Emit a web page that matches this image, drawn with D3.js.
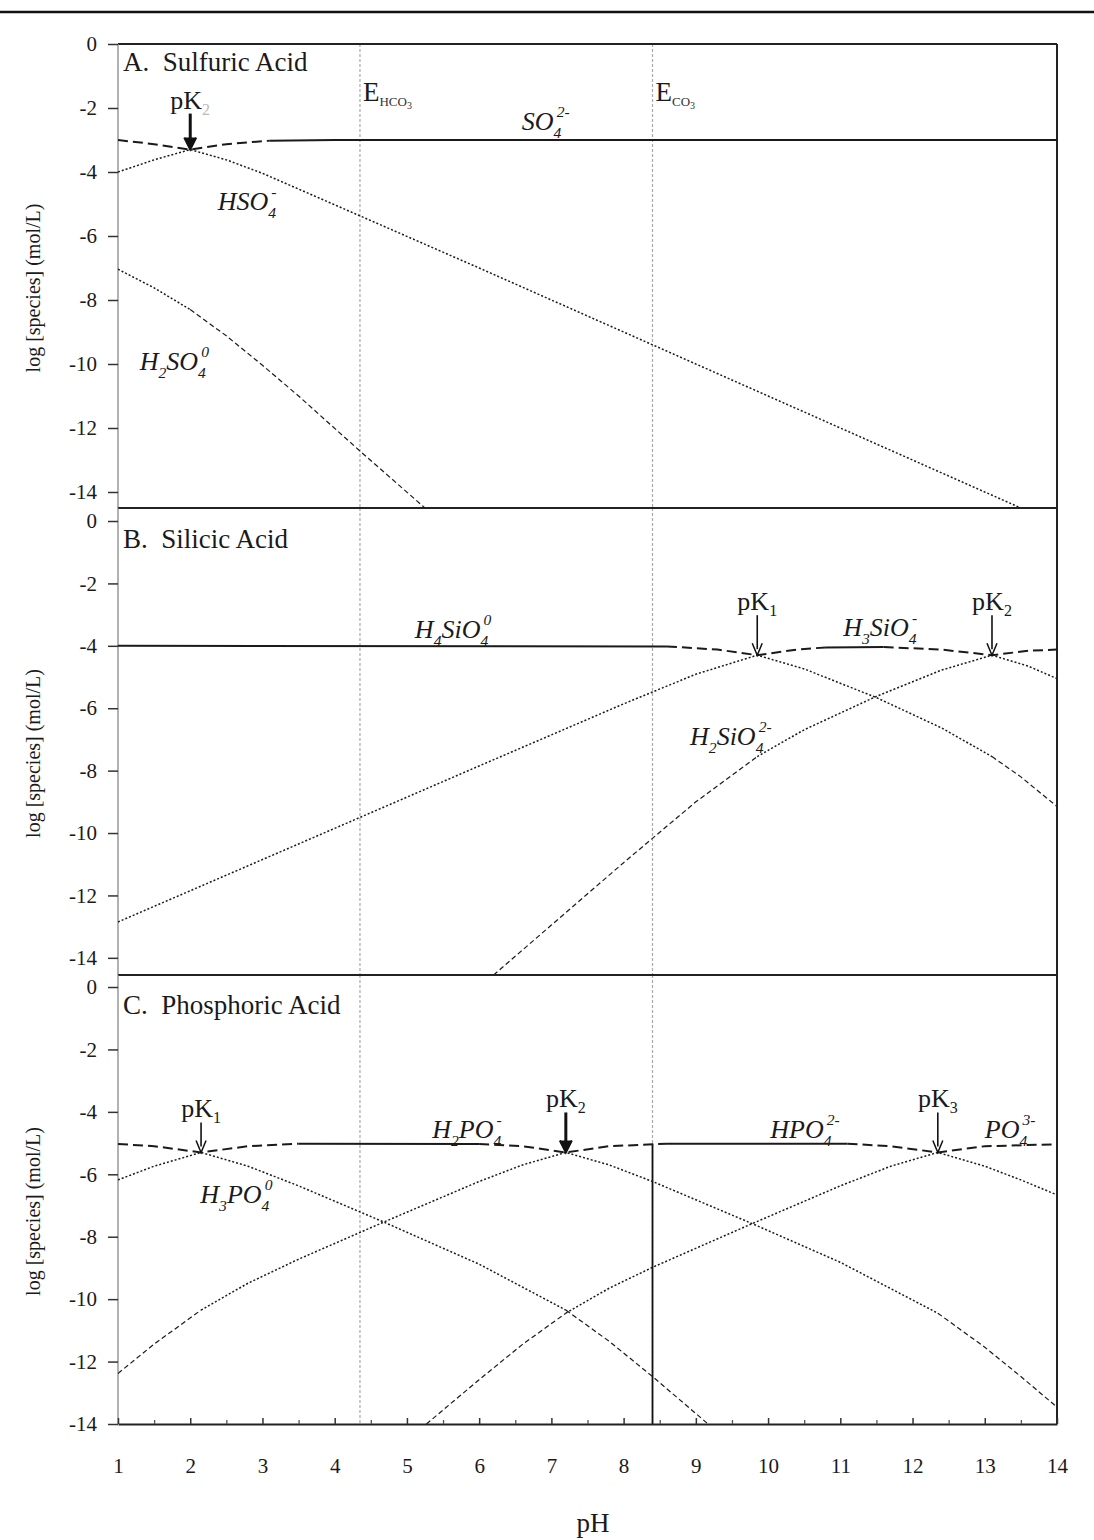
<!DOCTYPE html>
<html>
<head>
<meta charset="utf-8">
<script src="https://cdn.jsdelivr.net/npm/d3@7/dist/d3.min.js"></script>
<style>
  body { margin: 0; background: #fff; }
  svg text { font-family: "Liberation Serif", "DejaVu Serif", serif; fill: #1a1a1a; }
</style>
</head>
<body>
<div id="chart"></div>
<script>
// pH axis
const phTicks = [1, 2, 3, 4, 5, 6, 7, 8, 9, 10, 11, 12, 13, 14];
const logTicks = [0, -2, -4, -6, -8, -10, -12, -14];

// equivalence points of the carbonate system
const eqPoints = [
  { pH: 4.35, name: "HCO", sub: "3" },
  { pH: 8.4, name: "CO", sub: "3" }
];

// A. sulfuric acid, [pH, log species]
const sulfUpper = [[1, -3.0], [1.5, -3.13], [2.0, -3.3], [2.5, -3.13], [3.1, -3.02], [4.0, -3.0], [14, -3.0]];
const sulfHSO4 = [[1, -4.0], [1.5, -3.62], [2.0, -3.3], [2.5, -3.62], [3.0, -4.04], [4.35, -5.37], [6, -7.0], [8, -9.0], [10, -11.0], [12, -13.0], [13.5, -14.5]];
const sulfH2SO4 = [[1, -7.04], [1.5, -7.62], [2.0, -8.3], [2.5, -9.12], [3.0, -10.04], [3.5, -11.0], [4.35, -12.72], [5.25, -14.5]];
const sulfPK = [{ pH: 2.0, v: -3.3, sub: "2" }];

// B. silicic acid
const silUpper = [[1, -4.0], [8.6, -4.02], [9.3, -4.12], [9.85, -4.3], [10.4, -4.12], [10.8, -4.05], [11.6, -4.04], [12.4, -4.12], [13.1, -4.3], [13.6, -4.16], [14, -4.12]];
const silH3SiO4 = [[1, -12.85], [2, -11.85], [3, -10.85], [4.35, -9.5], [6, -7.85], [8, -5.86], [9, -4.91], [9.85, -4.3], [10.5, -4.74], [11.5, -5.66], [12.4, -6.63], [13.1, -7.55], [13.5, -8.2], [14, -9.15]];
const silH2SiO4 = [[6.2, -14.55], [7, -12.95], [8, -10.95], [9, -9.0], [9.85, -7.55], [10.5, -6.69], [11.5, -5.62], [12.4, -4.78], [13.1, -4.3], [13.6, -4.65], [14, -5.05]];
const silPK = [{ pH: 9.85, v: -4.3, sub: "1" }, { pH: 13.1, v: -4.3, sub: "2" }];

// C. phosphoric acid
const phosUpper = [[1, -5.03], [1.5, -5.1], [2.15, -5.3], [2.8, -5.1], [3.5, -5.02], [6.0, -5.03], [6.6, -5.1], [7.2, -5.3], [7.8, -5.1], [8.6, -5.02], [11.1, -5.02], [11.7, -5.1], [12.35, -5.3], [13.0, -5.1], [14, -5.04]];
const phosH3PO4 = [[1, -6.18], [1.5, -5.74], [2.15, -5.3], [2.8, -5.74], [3.5, -6.37], [4.68, -7.53], [6, -8.88], [7.2, -10.35], [7.8, -11.35], [8.4, -12.48], [9.17, -14.0]];
const phosH2PO4 = [[1, -12.38], [1.5, -11.44], [2.15, -10.35], [2.8, -9.49], [3.5, -8.72], [4.68, -7.53], [6, -6.23], [6.6, -5.7], [7.2, -5.3], [7.8, -5.7], [8.4, -6.23], [9.78, -7.58], [11, -8.82], [12.35, -10.45], [13, -11.54], [13.5, -12.48], [14, -13.46]];
const phosPO4 = [[5.27, -14.0], [6, -12.58], [6.6, -11.45], [7.2, -10.45], [7.8, -9.65], [8.4, -8.98], [9.78, -7.58], [11, -6.37], [11.7, -5.74], [12.35, -5.3], [13, -5.74], [13.5, -6.18], [14, -6.66]];
const phosPK = [{ pH: 2.15, v: -5.3, sub: "1" }, { pH: 7.2, v: -5.3, sub: "2" }, { pH: 12.35, v: -5.3, sub: "3" }];

// species labels: text, pH, log value (left/baseline)
const sulfLabels = [["SO_4^{2-}", 6.59, -2.69], ["HSO_4^-", 2.38, -5.2], ["H_2SO_4^0", 1.3, -10.2]];
const silLabels = [["H_4SiO_4^0", 5.11, -3.75], ["H_3SiO_4^-", 11.04, -3.69], ["H_2SiO_4^{2-}", 8.92, -7.18]];
const phosLabels = [["H_3PO_4^0", 2.14, -6.92], ["H_2PO_4^-", 5.35, -4.84], ["HPO_4^{2-}", 10.03, -4.84], ["PO_4^{3-}", 13.0, -4.84]];

const W = 1094, H = 1540;
const svg = d3.select("#chart").append("svg")
  .attr("width", W).attr("height", H);

const x = d3.scaleLinear().domain([1, 14]).range([118, 1057]);

// rule across the top of the page
svg.append("line")
  .attr("x1", 0).attr("x2", W).attr("y1", 12).attr("y2", 12)
  .attr("stroke", "#111").attr("stroke-width", 2.5);

const panels = [
  { id: "A", range: [44, 508], domain: [0, -14.5], title: "A.  Sulfuric Acid",
    upper: sulfUpper, lower: [sulfHSO4, sulfH2SO4], pk: sulfPK, labels: sulfLabels, eqLabels: true,
    pkLen: [36], pkBold: [true] },
  { id: "B", range: [508, 975], domain: [0.417, -14.55], title: "B.  Silicic Acid",
    upper: silUpper, lower: [silH3SiO4, silH2SiO4], pk: silPK, labels: silLabels, eqLabels: false,
    pkLen: [40, 40], pkBold: [false, false] },
  { id: "C", range: [975, 1424], domain: [0.385, -14], title: "C.  Phosphoric Acid",
    upper: phosUpper, lower: [phosH3PO4, phosH2PO4, phosPO4], pk: phosPK, labels: phosLabels, eqLabels: false,
    pkLen: [30, 40, 40], pkBold: [false, true, false] }
];

// write a chemical formula with _sub and ^sup parts, sup stacked over a preceding sub
function richText(sel, str, size) {
  const re = /([_^])(\{[^}]*\}|.)|([^_^]+)/g;
  let m, shift = 0, prevSub = 0;
  while ((m = re.exec(str)) !== null) {
    if (m[3]) {
      sel.append("tspan").attr("dy", -shift).attr("font-size", size).text(m[3]);
      shift = 0; prevSub = 0;
    } else {
      const t = m[2].replace(/[{}]/g, "");
      const isSub = m[1] === "_";
      const d = isSub ? size * 0.3 : -size * 0.5;
      const ts = sel.append("tspan").attr("dy", d - shift).attr("font-size", size * 0.6).text(t);
      if (!isSub && prevSub) ts.attr("dx", -prevSub + size * 0.12);
      prevSub = isSub ? t.length * size * 0.3 : 0;
      shift = d;
    }
  }
}

// split a curve into runs with the same line style
function runs(pts, major) {
  const out = [];
  for (let i = 1; i < pts.length; i++) {
    const s = Math.abs((pts[i][1] - pts[i - 1][1]) / (pts[i][0] - pts[i - 1][0]));
    const style = major ? (s < 0.05 ? "solid" : "dash") : (s >= 1.5 ? "dash" : "dot");
    const last = out[out.length - 1];
    if (last && last.style === style) last.pts.push(pts[i]);
    else out.push({ style: style, pts: [pts[i - 1], pts[i]] });
  }
  return out;
}

const styles = {
  solid: { w: 2, dash: null },
  dash: { w: 2, dash: "10,5" },
  dot: { w: 1.5, dash: "2,2" }
};
const minorDash = { w: 1.2, dash: "5,3" };

panels.forEach(function(p) {
  const y = d3.scaleLinear().domain(p.domain).range(p.range);
  const g = svg.append("g");

  g.append("clipPath").attr("id", "clip" + p.id)
    .append("rect")
    .attr("x", x(1)).attr("y", p.range[0])
    .attr("width", x(14) - x(1)).attr("height", p.range[1] - p.range[0]);

  // carbonate equivalence lines
  eqPoints.forEach(function(e) {
    g.append("line")
      .attr("x1", x(e.pH)).attr("x2", x(e.pH))
      .attr("y1", p.range[0]).attr("y2", p.range[1])
      .attr("stroke", "#aaa").attr("stroke-width", 1.2)
      .attr("stroke-dasharray", "3,2");
  });
  if (p.id === "C") {
    g.append("line")
      .attr("x1", x(8.4)).attr("x2", x(8.4))
      .attr("y1", y(-5.02)).attr("y2", p.range[1])
      .attr("stroke", "#111").attr("stroke-width", 1.8);
  }

  // panel frame
  g.append("line")
    .attr("x1", x(1)).attr("x2", x(14)).attr("y1", p.range[0]).attr("y2", p.range[0])
    .attr("stroke", "#222").attr("stroke-width", 2);
  g.append("line")
    .attr("x1", x(14)).attr("x2", x(14)).attr("y1", p.range[0]).attr("y2", p.range[1])
    .attr("stroke", "#222").attr("stroke-width", 2);

  // y axis
  const ax = g.append("g")
    .attr("transform", "translate(" + x(1) + ",0)")
    .call(d3.axisLeft(y).tickValues(logTicks).tickSize(10).tickSizeOuter(0).tickPadding(11)
      .tickFormat(function(d) { return String(d); }));
  ax.select(".domain").attr("stroke", "#888").attr("stroke-width", 1.3)
    .attr("d", "M0," + p.range[0] + "V" + p.range[1]);
  ax.selectAll(".tick line").attr("stroke", "#333").attr("stroke-width", 1.5);
  ax.selectAll(".tick text").attr("font-size", 21).attr("fill", "#333")
    .attr("font-family", "Liberation Serif, serif");

  // curves
  const line = d3.line().x(function(d) { return x(d[0]); }).y(function(d) { return y(d[1]); });
  const cg = g.append("g").attr("clip-path", "url(#clip" + p.id + ")");
  p.lower.forEach(function(curve) {
    runs(curve, false).forEach(function(r) {
      const st = r.style === "dash" ? minorDash : styles.dot;
      cg.append("path").attr("d", line(r.pts))
        .attr("fill", "none").attr("stroke", "#1a1a1a")
        .attr("stroke-width", st.w).attr("stroke-dasharray", st.dash);
    });
  });
  runs(p.upper, true).forEach(function(r) {
    const st = styles[r.style];
    cg.append("path").attr("d", line(r.pts))
      .attr("fill", "none").attr("stroke", "#1a1a1a")
      .attr("stroke-width", st.w).attr("stroke-dasharray", st.dash);
  });

  // title
  g.append("text")
    .attr("x", 123).attr("y", y(0) + 27)
    .attr("font-size", 27).attr("xml:space", "preserve")
    .style("white-space", "pre")
    .text(p.title);

  // pK arrows
  p.pk.forEach(function(k, i) {
    const tx = x(k.pH), ty = y(k.v), len = p.pkLen[i];
    const bold = p.pkBold[i];
    g.append("line")
      .attr("x1", tx).attr("x2", tx).attr("y1", ty - len).attr("y2", ty - 6)
      .attr("stroke", "#111").attr("stroke-width", bold ? 3 : 1.6);
    g.append("path")
      .attr("d", "M" + (tx - (bold ? 6 : 5)) + "," + (ty - 12) + "L" + tx + "," + ty + "L" + (tx + (bold ? 6 : 5)) + "," + (ty - 12))
      .attr("fill", bold ? "#111" : "none").attr("stroke", "#111").attr("stroke-width", bold ? 2 : 1.5);
    const t = g.append("text")
      .attr("x", tx).attr("y", ty - len - 5)
      .attr("text-anchor", "middle");
    t.append("tspan").attr("font-size", 26).text("pK");
    t.append("tspan").attr("font-size", 16).attr("dy", 6)
      .attr("fill", p.id === "A" ? "#bbb" : "#1a1a1a").text(k.sub);
  });

  // species labels
  p.labels.forEach(function(l) {
    const t = g.append("text")
      .attr("x", x(l[1])).attr("y", y(l[2]))
      .attr("font-style", "italic");
    richText(t, l[0], 26);
  });

  // E labels
  if (p.eqLabels) {
    eqPoints.forEach(function(e) {
      const t = g.append("text").attr("x", x(e.pH) + 3).attr("y", y(-1.77));
      t.append("tspan").attr("font-size", 27).text("E");
      t.append("tspan").attr("font-size", 13).attr("dy", 5).attr("fill", "#333").text(e.name);
      t.append("tspan").attr("font-size", 10).attr("dy", 3).attr("fill", "#333").text(e.sub);
    });
  }

  // y label
  g.append("text")
    .attr("transform", "translate(40," + ((p.range[0] + p.range[1]) / 2 + 12) + ") rotate(-90)")
    .attr("text-anchor", "middle")
    .attr("font-size", 20)
    .attr("font-family", "Liberation Sans, Arial, sans-serif")
    .attr("fill", "#333")
    .text("log [species] (mol/L)");

  // x axis on the last panel
  if (p.id === "C") {
    const xa = g.append("g")
      .attr("transform", "translate(0," + p.range[1] + ")")
      .call(d3.axisBottom(x).tickValues(phTicks).tickSize(-6).tickSizeOuter(0).tickPadding(34)
        .tickFormat(d3.format("d")));
    xa.select(".domain").attr("stroke", "#222").attr("stroke-width", 2);
    xa.selectAll(".tick line").attr("stroke", "#333").attr("stroke-width", 1.5);
    xa.selectAll(".tick text").attr("font-size", 21).attr("fill", "#333")
      .attr("font-family", "Liberation Serif, serif");
    const minor = d3.range(1.5, 14, 1);
    g.append("g")
      .attr("transform", "translate(0," + p.range[1] + ")")
      .call(d3.axisBottom(x).tickValues(minor).tickSize(-4).tickFormat(""))
      .call(function(s) { s.select(".domain").remove(); })
      .selectAll(".tick line").attr("stroke", "#555").attr("stroke-width", 1.3);
  }
});

svg.append("text")
  .attr("x", 593).attr("y", 1532)
  .attr("text-anchor", "middle")
  .attr("font-size", 27)
  .text("pH");
</script>
</body>
</html>
